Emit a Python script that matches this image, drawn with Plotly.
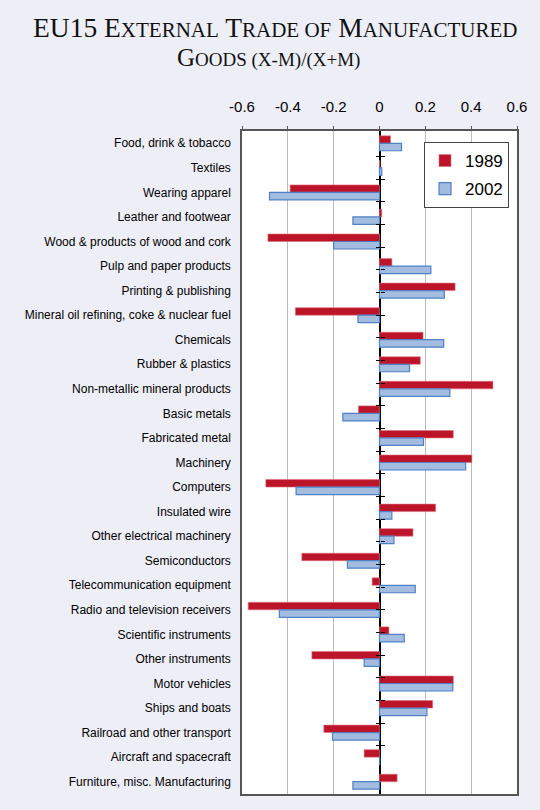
import plotly.graph_objects as go

categories = [
    "Food, drink & tobacco", "Textiles", "Wearing apparel", "Leather and footwear",
    "Wood & products of wood and cork", "Pulp and paper products", "Printing & publishing",
    "Mineral oil refining, coke & nuclear fuel", "Chemicals", "Rubber & plastics",
    "Non-metallic mineral products", "Basic metals", "Fabricated metal", "Machinery",
    "Computers", "Insulated wire", "Other electrical machinery", "Semiconductors",
    "Telecommunication equipment", "Radio and television receivers", "Scientific instruments",
    "Other instruments", "Motor vehicles", "Ships and boats", "Railroad and other transport",
    "Aircraft and spacecraft", "Furniture, misc. Manufacturing",
]
values_1989 = [0.048, 0.002, -0.39, 0.01, -0.487, 0.054, 0.33, -0.367, 0.19, 0.178,
               0.495, -0.092, 0.322, 0.403, -0.496, 0.245, 0.146, -0.339, -0.032, -0.573,
               0.041, -0.295, 0.322, 0.232, -0.243, -0.067, 0.077]
values_2002 = [0.096, 0.01, -0.48, -0.116, -0.2, 0.224, 0.283, -0.094, 0.28, 0.131,
               0.307, -0.16, 0.192, 0.376, -0.364, 0.054, 0.063, -0.14, 0.156, -0.437,
               0.108, -0.067, 0.32, 0.207, -0.205, 0.001, -0.116]
x_tickvals = [-0.6, -0.4, -0.2, 0, 0.2, 0.4, 0.6]
x_ticktext = ["-0.6", "-0.4", "-0.2", "0", "0.2", "0.4", "0.6"]

fig = go.Figure()
fig.add_trace(go.Bar(
    y=categories, x=values_1989, orientation="h", name="1989", legendgroup="a",
    marker=dict(color="#BC1529", line=dict(color="#E07080", width=0.6)),
))
fig.add_trace(go.Bar(
    y=categories, x=values_2002, orientation="h", name="2002", legendgroup="b",
    marker=dict(color="#A3BCE0", line=dict(color="#4F81C7", width=1.2)),
))
# invisible helper traces carrying the crossing tick marks at zero
for ax in ("y2", "y3"):
    fig.add_trace(go.Scatter(
        y=categories, x=[0] * len(categories), yaxis=ax, mode="markers",
        marker=dict(opacity=0), showlegend=False, hoverinfo="skip",
    ))

small1 = "<span style='font-size:21px'>"
small2 = "<span style='font-size:19px'>"
line1 = f"EU15 E{small1}XTERNAL</span> T{small1}RADE OF</span> M{small1}ANUFACTURED</span>"
line2 = f"G{small2}OODS (X-M)/(X+M)</span>"
serif = "Liberation Serif, Times New Roman, serif"

L, R, T, B = 242, 23, 131, 16
PW, PH = 540 - L - R, 810 - T - B

fig.update_layout(
    width=540, height=810,
    margin=dict(l=L, r=R, t=T, b=B),
    paper_bgcolor="#EEEEF6", plot_bgcolor="#FFFFFF",
    barmode="group", bargap=0.39, bargroupgap=0,
    font=dict(family="Liberation Sans, Arial, sans-serif", color="#000000"),
    showlegend=True,
    legend=dict(
        x=(424 - L) / PW, y=1 - (142 - T) / PH, xanchor="left", yanchor="top",
        bgcolor="#FFFFFF", bordercolor="#444444", borderwidth=1,
        font=dict(size=17, color="#000000"), tracegroupgap=3, itemwidth=30,
    ),
    annotations=[
        dict(text=line1, x=(275 - L) / PW, xref="paper", xanchor="center",
             y=1 + (T - 27) / PH, yref="paper", yanchor="middle", showarrow=False,
             font=dict(family=serif, size=27.5, color="#111111")),
        dict(text=line2, x=(268 - L) / PW, xref="paper", xanchor="center",
             y=1 + (T - 58) / PH, yref="paper", yanchor="middle", showarrow=False,
             font=dict(family=serif, size=25, color="#111111")),
    ],
    xaxis=dict(
        range=[-0.6, 0.6], side="top", tickvals=x_tickvals, ticktext=x_ticktext,
        tickfont=dict(size=15, color="#000000"), ticks="outside", ticklen=3,
        tickcolor="#555555", ticklabelstandoff=8,
        showgrid=True, gridcolor="#BBBBBB", gridwidth=1.2,
        zeroline=True, zerolinecolor="#000000", zerolinewidth=1.5,
        showline=True, linecolor="#555555", linewidth=1.5, mirror=True,
    ),
    yaxis=dict(
        type="category", categoryorder="array", categoryarray=categories,
        autorange="reversed", ticks="", tickfont=dict(size=12, color="#000000"),
        ticklabelstandoff=7, showgrid=False,
        showline=True, linecolor="#555555", linewidth=1.5, mirror=True,
    ),
    yaxis2=dict(
        type="category", categoryorder="array", categoryarray=categories,
        autorange="reversed", overlaying="y", anchor="free", position=0.5,
        tickson="boundaries", ticks="outside", ticklen=4, tickcolor="#000000", tickwidth=1,
        showticklabels=False, showgrid=False, showline=False, zeroline=False,
    ),
    yaxis3=dict(
        type="category", categoryorder="array", categoryarray=categories,
        autorange="reversed", overlaying="y", anchor="free", position=0.5,
        tickson="boundaries", ticks="inside", ticklen=4, tickcolor="#000000", tickwidth=1,
        showticklabels=False, showgrid=False, showline=False, zeroline=False,
    ),
)

fig.write_html(
    "out.html",
    config={"displayModeBar": False},
    post_script="document.body.style.margin='0';document.body.style.overflow='hidden';",
)
